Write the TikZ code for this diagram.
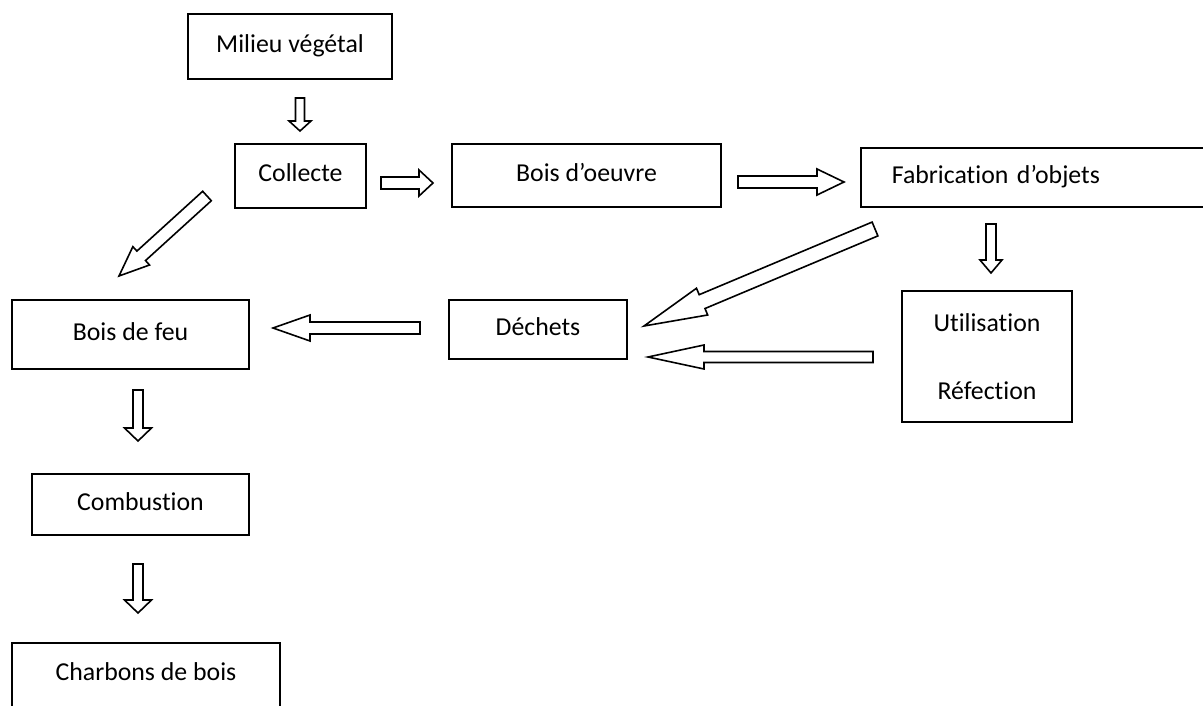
\documentclass[tikz,border=0pt]{standalone}
\usepackage{fontspec}
\setmainfont{Carlito}[Ligatures=NoCommon]
\usepackage{tikz}
\usetikzlibrary{calc}

\newcommand{\blockarrow}[5]{%
\coordinate (m) at ($(#2)!#5!(#1)$);
\draw[arrow line] ($(#1)!#3!90:(#2)$) -- ($(m)!#3!90:(#2)$) -- ($(m)!#4!90:(#2)$) -- (#2)
 -- ($(m)!#4!-90:(#2)$) -- ($(m)!#3!-90:(#2)$) -- ($(#1)!#3!-90:(#2)$) -- cycle;}

\begin{document}
\begin{tikzpicture}[x=1pt, y=-1pt, box/.style={draw, line width=1.8pt, rectangle, inner sep=0pt, font=\fontsize{25.8}{31}\selectfont}, one line/.style={box, text height=18pt, text depth=6pt}, arrow line/.style={draw, line width=1.6pt, fill=white, line join=miter}]
\useasboundingbox (0,0) rectangle (1203,706);
\clip (0,0) rectangle (1203,706);
\node[one line, minimum width=204pt, minimum height=65pt] (1) at (290,46.5) {Milieu végétal};
\node[one line, minimum width=131pt, minimum height=64pt] (2) at (300.5,176) {Collecte};
\node[one line, minimum width=269pt, minimum height=63pt] (3) at (586.5,175.5) {Bois d’oeuvre};
\node[one line, minimum height=59pt, anchor=west, text width=288pt, align=left, inner xsep=31pt] (4) at (860,177.5) {Fabrication d’objets};
\node[one line, minimum width=178pt, minimum height=59pt] (5) at (538,329.5) {Déchets};
\node[box, minimum width=170pt, minimum height=131pt, align=center] (6) at (987,356.5) {Utilisation\\[37pt]Réfection};
\node[one line, minimum width=237pt, minimum height=69pt] (7) at (130.5,334.5) {Bois de feu};
\node[one line, minimum width=217pt, minimum height=61pt] (8) at (140.5,504.5) {Combustion};
\node[one line, minimum width=268pt, anchor=north, text depth=40pt, inner ysep=20pt] (9) at (146,642) {Charbons de bois};
\coordinate (1a) at (300,98);   \coordinate (2b) at (300,131);
\coordinate (2a) at (381,183);  \coordinate (3b) at (433,183);
\coordinate (2c) at (207,196);  \coordinate (7b) at (119,276);
\coordinate (3a) at (738,182);  \coordinate (4b) at (844,182);
\coordinate (4a) at (875,229);  \coordinate (5b) at (644,326);
\coordinate (4c) at (991,224);  \coordinate (6b) at (991,273);
\coordinate (6a) at (873,357);  \coordinate (5c) at (648,357);
\coordinate (5a) at (420,328);  \coordinate (7c) at (273,328);
\coordinate (7a) at (138,390);  \coordinate (8b) at (138,441);
\coordinate (8a) at (138,564);  \coordinate (9b) at (138,613);
\blockarrow{1a}{2b}{4.5pt}{11pt}{10pt}
\blockarrow{2a}{3b}{6pt}{13pt}{14pt}
\blockarrow{2c}{7b}{6.4pt}{12.4pt}{30pt}
\blockarrow{3a}{4b}{6pt}{13pt}{27pt}
\blockarrow{4a}{5b}{7.5pt}{14.5pt}{63pt}
\blockarrow{4c}{6b}{5pt}{11pt}{13pt}
\blockarrow{6a}{5c}{5.5pt}{12pt}{56pt}
\blockarrow{5a}{7c}{6pt}{13pt}{37pt}
\blockarrow{7a}{8b}{5pt}{13.5pt}{13pt}
\blockarrow{8a}{9b}{5pt}{13.5pt}{13pt}
\end{tikzpicture}
\end{document}
